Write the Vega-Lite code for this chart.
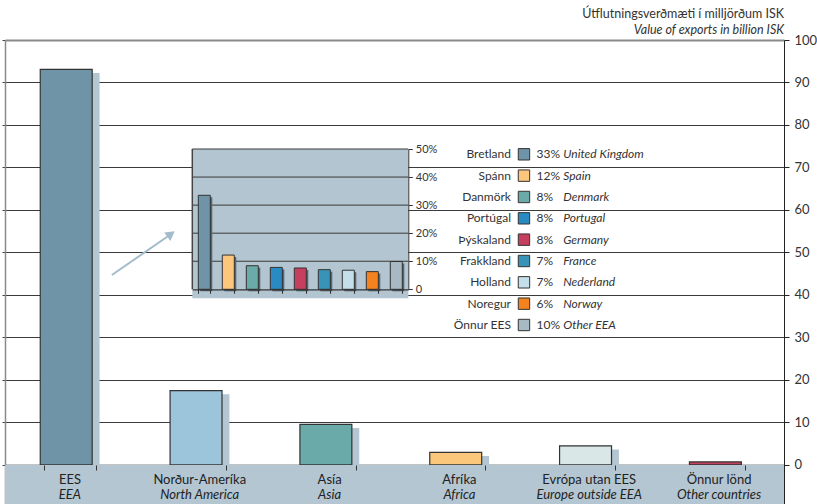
{
  "$schema": "https://vega.github.io/schema/vega-lite/v6.json",
  "width": 779,
  "height": 464,
  "autosize": {"type": "none"},
  "padding": {"left": 5, "top": 40, "right": 33, "bottom": 0},
  "config": {
    "font": "Lato",
    "view": {"stroke": null},
    "text": {"font": "Lato"}
  },
  "title": {
    "text": "Útflutningsverðmæti í milljörðum ISK",
    "subtitle": "Value of exports in billion ISK",
    "anchor": "end",
    "frame": "group",
    "fontSize": 12.5,
    "fontWeight": "normal",
    "color": "#333333",
    "subtitleFontSize": 12.5,
    "subtitleFontStyle": "italic",
    "subtitleColor": "#333333",
    "subtitlePadding": 3,
    "offset": -2
  },
  "datasets": {
    "main": [
      {"is": "EES", "en": "EEA", "v": 93.1},
      {"is": "Norður-Ameríka", "en": "North America", "v": 17.5},
      {"is": "Asía", "en": "Asia", "v": 9.55},
      {"is": "Afríka", "en": "Africa", "v": 2.95},
      {"is": "Evrópa utan EES", "en": "Europe outside EEA", "v": 4.5},
      {"is": "Önnur lönd", "en": "Other countries", "v": 0.7}
    ],
    "inset": [
      {"is": "Bretland", "en": "United Kingdom", "pct": "33%", "v": 33.5},
      {"is": "Spánn", "en": "Spain", "pct": "12%", "v": 12.2},
      {"is": "Danmörk", "en": "Denmark", "pct": "8%", "v": 8.4},
      {"is": "Portúgal", "en": "Portugal", "pct": "8%", "v": 7.8},
      {"is": "Þýskaland", "en": "Germany", "pct": "8%", "v": 7.6},
      {"is": "Frakkland", "en": "France", "pct": "7%", "v": 7.0},
      {"is": "Holland", "en": "Nederland", "pct": "7%", "v": 6.8},
      {"is": "Noregur", "en": "Norway", "pct": "6%", "v": 6.3},
      {"is": "Önnur EES", "en": "Other EEA", "pct": "10%", "v": 9.9}
    ],
    "ticks": [{"t": 10}, {"t": 20}, {"t": 30}, {"t": 40}, {"t": 50}]
  },
  "layer": [
    {
      "data": {"name": "main"},
      "layer": [
        {
          "mark": {"type": "bar", "color": "#b3c6d1", "xOffset": 3.7, "yOffset": 3.7},
          "encoding": {
            "x": {
              "field": "is", "type": "nominal", "sort": null,
              "scale": {"paddingInner": 0.6, "paddingOuter": 0.3},
              "axis": {"orient": "bottom", "offset": -39, "labels": false, "title": null, "domain": false, "ticks": true, "tickBand": "extent", "tickSize": 5, "tickColor": "#333333", "tickWidth": 1, "grid": false, "zindex": 1}
            },
            "y": {
              "field": "v", "type": "quantitative",
              "scale": {"domain": [-9.2, 100], "nice": false, "zero": false},
              "axis": {"orient": "left", "values": [0, 10, 20, 30, 40, 50, 60, 70, 80, 90, 100], "labels": false, "ticks": true, "tickSize": 3, "tickColor": "#444444", "domain": true, "domainColor": "#8a8a8a", "domainWidth": 1.5, "grid": false, "title": null}
            }
          }
        },
        {
          "mark": {"type": "bar", "xOffset": -3.7, "stroke": "#333333", "strokeWidth": 1.2},
          "encoding": {
            "x": {"field": "is", "type": "nominal", "sort": null},
            "y": {
              "field": "v", "type": "quantitative",
              "axis": {
                "orient": "right",
                "values": [0, 10, 20, 30, 40, 50, 60, 70, 80, 90, 100],
                "grid": true,
                "gridColor": {"condition": {"test": "datum.value === 100 || datum.value === 0", "value": "#8a8a8a"}, "value": "#3a3a3a"},
                "gridWidth": {"condition": {"test": "datum.value === 100 || datum.value === 0", "value": 2}, "value": 1},
                "tickSize": 5, "tickColor": "#222222",
                "domainColor": "#222222",
                "labelFontSize": 13, "labelColor": "#333333", "labelPadding": 5,
                "title": null
              }
            },
            "color": {
              "field": "is", "type": "nominal", "legend": null,
              "scale": {
                "domain": ["EES", "Norður-Ameríka", "Asía", "Afríka", "Evrópa utan EES", "Önnur lönd"],
                "range": ["#6f94a8", "#9cc4db", "#6aaaa8", "#fbc77b", "#d9e7e6", "#c2415c"]
              }
            }
          }
        },
        {
          "data": {"values": [{}]},
          "mark": {"type": "rect", "color": "#b3c6d2"},
          "encoding": {
            "y": {"datum": 0, "type": "quantitative", "axis": null},
            "y2": {"datum": -9.2}
          }
        },
        {
          "mark": {"type": "text", "fontSize": 13, "color": "#222222", "baseline": "middle"},
          "encoding": {
            "x": {"field": "is", "type": "nominal", "sort": null},
            "y": {"datum": -3.55, "type": "quantitative", "axis": null},
            "text": {"field": "is"}
          }
        },
        {
          "mark": {"type": "text", "fontSize": 13, "color": "#222222", "baseline": "middle", "fontStyle": "italic"},
          "encoding": {
            "x": {"field": "is", "type": "nominal", "sort": null},
            "y": {"datum": -7.1, "type": "quantitative", "axis": null},
            "text": {"field": "en"}
          }
        }
      ],
      "resolve": {"axis": {"y": "independent"}}
    },
    {
      "data": {"name": "ticks"},
      "layer": [
        {
          "data": {"values": [{}]},
          "mark": {"type": "rect", "color": "#b3c5d0"},
          "encoding": {
            "x": {"datum": 0, "type": "quantitative", "scale": {"domain": [0, 9], "range": [187.3, 403.3], "nice": false, "zero": false}, "axis": null},
            "x2": {"datum": 9},
            "y": {"datum": -3.2, "type": "quantitative", "scale": {"domain": [0, 50], "range": [249.3, 109], "nice": false, "zero": false}, "axis": null},
            "y2": {"datum": 50}
          }
        },
        {
          "mark": {"type": "rule", "color": "#3a3a3a", "strokeWidth": 1},
          "encoding": {
            "x": {"datum": 0, "type": "quantitative", "axis": null},
            "x2": {"datum": 9},
            "y": {"field": "t", "type": "quantitative", "axis": null}
          }
        },
        {
          "data": {"values": [{}]},
          "mark": {"type": "rule", "color": "#444444", "strokeWidth": 1.5},
          "encoding": {
            "x": {"datum": 0, "type": "quantitative", "axis": null},
            "y": {"datum": 0, "type": "quantitative", "axis": null},
            "y2": {"datum": 50}
          }
        },
        {
          "data": {"values": [{}]},
          "mark": {"type": "rule", "color": "#a3bccb", "strokeWidth": 2},
          "encoding": {
            "x": {"datum": -3.35, "type": "quantitative", "axis": null},
            "x2": {"datum": -1.0},
            "y": {"datum": 5.1, "type": "quantitative", "axis": null},
            "y2": {"datum": 19.0}
          }
        },
        {
          "data": {"values": [{}]},
          "mark": {"type": "point", "shape": "triangle-up", "filled": true, "color": "#a3bccb", "opacity": 1, "size": 110, "angle": 54},
          "encoding": {
            "x": {"datum": -0.89, "type": "quantitative", "axis": null},
            "y": {"datum": 19.7, "type": "quantitative", "axis": null}
          }
        }
      ]
    },
    {
      "data": {"name": "inset"},
      "layer": [
        {
          "mark": {"type": "bar", "color": "#56666e", "xOffset": 2, "yOffset": 2},
          "encoding": {
            "x": {
              "field": "is", "type": "nominal", "sort": null,
              "scale": {"range": [187.3, 403.3], "paddingInner": 0.5, "paddingOuter": 0.25},
              "axis": {"orient": "bottom", "offset": -214.7, "labels": false, "title": null, "domain": true, "domainColor": "#333333", "domainWidth": 1.2, "tickBand": "extent", "tickSize": 4, "tickColor": "#333333", "grid": false, "zindex": 1}
            },
            "y": {
              "field": "v", "type": "quantitative",
              "scale": {"domain": [0, 50], "range": [249.3, 109], "nice": false, "zero": false},
              "axis": {"orient": "right", "offset": -375.7, "values": [0, 10, 20, 30, 40, 50], "labelExpr": "datum.value == 0 ? '0' : datum.value + '%'", "grid": false, "domainColor": "#333333", "tickSize": 4, "tickColor": "#333333", "labelFontSize": 11, "labelColor": "#333333", "labelPadding": 3, "title": null, "zindex": 1}
            }
          }
        },
        {
          "mark": {"type": "bar", "stroke": "#333333", "strokeWidth": 1},
          "encoding": {
            "x": {"field": "is", "type": "nominal", "sort": null},
            "y": {"field": "v", "type": "quantitative"},
            "color": {
              "field": "is", "type": "nominal", "legend": null,
              "scale": {
                "domain": ["Bretland", "Spánn", "Danmörk", "Portúgal", "Þýskaland", "Frakkland", "Holland", "Noregur", "Önnur EES"],
                "range": ["#6f94a8", "#fcc67c", "#6aaaa8", "#2a8bc2", "#c63f5e", "#3893b6", "#c4dfea", "#f3821f", "#a7b9c2"]
              }
            }
          }
        }
      ]
    },
    {
      "data": {"name": "inset"},
      "layer": [
        {
          "mark": {"type": "text", "align": "right", "baseline": "middle", "fontSize": 12, "color": "#333333", "dx": -13},
          "encoding": {
            "x": {"datum": 66.62, "type": "quantitative", "scale": {"domain": [0, 100], "nice": false, "zero": false}, "axis": null},
            "y": {"field": "is", "type": "nominal", "sort": null, "scale": {"type": "point", "range": [114.3, 285], "padding": 0}, "axis": null},
            "text": {"field": "is"}
          }
        },
        {
          "mark": {"type": "point", "shape": "square", "filled": true, "size": 130, "opacity": 1, "stroke": "#333333", "strokeWidth": 1},
          "encoding": {
            "x": {"datum": 66.62, "type": "quantitative"},
            "y": {"field": "is", "type": "nominal", "sort": null},
            "color": {
              "field": "is", "type": "nominal", "legend": null,
              "scale": {
                "domain": ["Bretland", "Spánn", "Danmörk", "Portúgal", "Þýskaland", "Frakkland", "Holland", "Noregur", "Önnur EES"],
                "range": ["#6f94a8", "#fcc67c", "#6aaaa8", "#2a8bc2", "#c63f5e", "#3893b6", "#c4dfea", "#f3821f", "#a7b9c2"]
              }
            }
          }
        },
        {
          "mark": {"type": "text", "align": "left", "baseline": "middle", "fontSize": 12, "color": "#333333", "dx": 12.5},
          "encoding": {
            "x": {"datum": 66.62, "type": "quantitative"},
            "y": {"field": "is", "type": "nominal", "sort": null},
            "text": {"field": "pct"}
          }
        },
        {
          "mark": {"type": "text", "align": "left", "baseline": "middle", "fontSize": 12, "color": "#333333", "fontStyle": "italic", "dx": 39.3},
          "encoding": {
            "x": {"datum": 66.62, "type": "quantitative"},
            "y": {"field": "is", "type": "nominal", "sort": null},
            "text": {"field": "en"}
          }
        }
      ]
    }
  ],
  "resolve": {
    "scale": {"x": "independent", "y": "independent", "color": "independent"},
    "axis": {"x": "independent", "y": "independent"}
  }
}
